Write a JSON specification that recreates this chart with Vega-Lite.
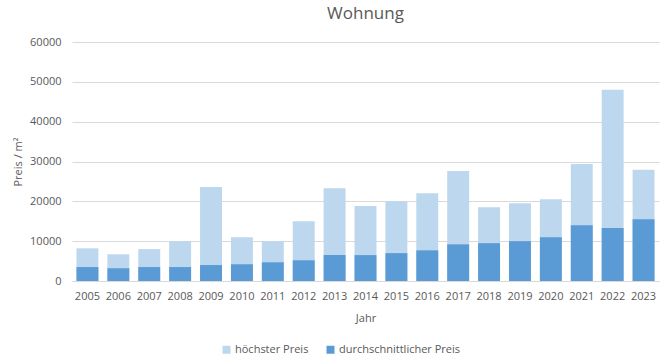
{
  "$schema": "https://vega.github.io/schema/vega-lite/v6.json",
  "width": 587,
  "height": 239,
  "autosize": {"type": "none"},
  "padding": {"left": 72, "top": 42, "right": 10, "bottom": 83},
  "background": "white",
  "config": {
    "font": "Open Sans",
    "view": {"stroke": null}
  },
  "title": {
    "text": "Wohnung",
    "fontSize": 17,
    "font": "Open Sans",
    "fontWeight": "normal",
    "color": "#595959",
    "anchor": "middle",
    "offset": 13
  },
  "data": {
    "values": [
      {"Jahr": "2005", "Serie": "höchster Preis", "Preis": 8200},
      {"Jahr": "2006", "Serie": "höchster Preis", "Preis": 6700},
      {"Jahr": "2007", "Serie": "höchster Preis", "Preis": 8000},
      {"Jahr": "2008", "Serie": "höchster Preis", "Preis": 10000},
      {"Jahr": "2009", "Serie": "höchster Preis", "Preis": 23600},
      {"Jahr": "2010", "Serie": "höchster Preis", "Preis": 11000},
      {"Jahr": "2011", "Serie": "höchster Preis", "Preis": 10000},
      {"Jahr": "2012", "Serie": "höchster Preis", "Preis": 15000},
      {"Jahr": "2013", "Serie": "höchster Preis", "Preis": 23300},
      {"Jahr": "2014", "Serie": "höchster Preis", "Preis": 18800},
      {"Jahr": "2015", "Serie": "höchster Preis", "Preis": 20000},
      {"Jahr": "2016", "Serie": "höchster Preis", "Preis": 22000},
      {"Jahr": "2017", "Serie": "höchster Preis", "Preis": 27600},
      {"Jahr": "2018", "Serie": "höchster Preis", "Preis": 18500},
      {"Jahr": "2019", "Serie": "höchster Preis", "Preis": 19500},
      {"Jahr": "2020", "Serie": "höchster Preis", "Preis": 20500},
      {"Jahr": "2021", "Serie": "höchster Preis", "Preis": 29400},
      {"Jahr": "2022", "Serie": "höchster Preis", "Preis": 48000},
      {"Jahr": "2023", "Serie": "höchster Preis", "Preis": 27900},
      {"Jahr": "2005", "Serie": "durchschnittlicher Preis", "Preis": 3500},
      {"Jahr": "2006", "Serie": "durchschnittlicher Preis", "Preis": 3200},
      {"Jahr": "2007", "Serie": "durchschnittlicher Preis", "Preis": 3500},
      {"Jahr": "2008", "Serie": "durchschnittlicher Preis", "Preis": 3500},
      {"Jahr": "2009", "Serie": "durchschnittlicher Preis", "Preis": 4000},
      {"Jahr": "2010", "Serie": "durchschnittlicher Preis", "Preis": 4200},
      {"Jahr": "2011", "Serie": "durchschnittlicher Preis", "Preis": 4700},
      {"Jahr": "2012", "Serie": "durchschnittlicher Preis", "Preis": 5200},
      {"Jahr": "2013", "Serie": "durchschnittlicher Preis", "Preis": 6500},
      {"Jahr": "2014", "Serie": "durchschnittlicher Preis", "Preis": 6500},
      {"Jahr": "2015", "Serie": "durchschnittlicher Preis", "Preis": 7000},
      {"Jahr": "2016", "Serie": "durchschnittlicher Preis", "Preis": 7700},
      {"Jahr": "2017", "Serie": "durchschnittlicher Preis", "Preis": 9200},
      {"Jahr": "2018", "Serie": "durchschnittlicher Preis", "Preis": 9500},
      {"Jahr": "2019", "Serie": "durchschnittlicher Preis", "Preis": 10000},
      {"Jahr": "2020", "Serie": "durchschnittlicher Preis", "Preis": 11000},
      {"Jahr": "2021", "Serie": "durchschnittlicher Preis", "Preis": 14000},
      {"Jahr": "2022", "Serie": "durchschnittlicher Preis", "Preis": 13300},
      {"Jahr": "2023", "Serie": "durchschnittlicher Preis", "Preis": 15500}
    ]
  },
  "mark": {"type": "bar"},
  "encoding": {
    "x": {
      "field": "Jahr",
      "type": "ordinal",
      "scale": {"paddingInner": 0.29, "paddingOuter": 0.145},
      "axis": {
        "title": "Jahr",
        "titleFont": "Open Sans",
        "titleFontSize": 11,
        "titleFontWeight": "normal",
        "titleColor": "#595959",
        "titlePadding": 11,
        "labelAngle": 0,
        "labelFont": "Open Sans",
        "labelFontSize": 11,
        "labelColor": "#595959",
        "labelPadding": 9,
        "ticks": false,
        "domainColor": "#D9D9D9"
      }
    },
    "y": {
      "field": "Preis",
      "type": "quantitative",
      "stack": null,
      "scale": {"domain": [0, 60000]},
      "axis": {
        "title": "Preis / m²",
        "titleFont": "Open Sans",
        "titleFontSize": 11,
        "titleFontWeight": "normal",
        "titleColor": "#595959",
        "titlePadding": 6,
        "values": [0, 10000, 20000, 30000, 40000, 50000, 60000],
        "format": "d",
        "labelFont": "Open Sans",
        "labelFontSize": 11,
        "labelColor": "#595959",
        "labelPadding": 11,
        "ticks": false,
        "domain": false,
        "gridColor": "#D9D9D9"
      }
    },
    "color": {
      "field": "Serie",
      "type": "nominal",
      "scale": {
        "domain": ["höchster Preis", "durchschnittlicher Preis"],
        "range": ["#BDD7EE", "#5B9BD5"]
      },
      "legend": {
        "title": null,
        "orient": "none",
        "legendX": 149,
        "legendY": 302,
        "direction": "horizontal",
        "symbolType": "square",
        "symbolSize": 64,
        "symbolStrokeWidth": 0,
        "labelFont": "Open Sans",
        "labelFontSize": 11,
        "labelColor": "#595959",
        "labelOffset": 3,
        "columnPadding": 16
      }
    },
    "order": {"field": "Serie", "sort": "descending"}
  }
}
